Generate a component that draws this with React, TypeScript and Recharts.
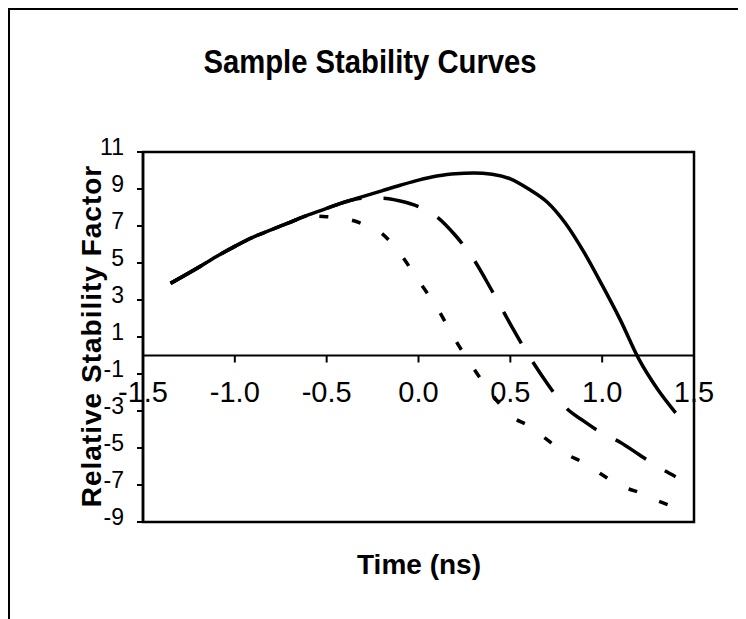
import React from 'react';
import { LineChart, Line, XAxis, YAxis, ReferenceLine, ReferenceArea, ReferenceDot } from 'recharts';

const times = [-1.35, -1.2, -1.1, -1.0, -0.9, -0.8, -0.7, -0.6, -0.5, -0.4, -0.3, -0.2, -0.1, 0.0, 0.1, 0.2, 0.3, 0.4, 0.5, 0.6, 0.7, 0.8, 0.9, 1.0, 1.1, 1.2, 1.3, 1.4];
const solidCurve = [3.9, 4.75, 5.35, 5.9, 6.4, 6.8, 7.2, 7.6, 7.95, 8.3, 8.6, 8.9, 9.2, 9.48, 9.7, 9.83, 9.86, 9.8, 9.55, 9.0, 8.3, 7.15, 5.6, 3.8, 1.9, -0.2, -1.8, -3.1];
const dashedCurve = [3.9, 4.75, 5.35, 5.9, 6.4, 6.8, 7.2, 7.6, 7.95, 8.3, 8.5, 8.5, 8.35, 8.05, 7.5, 6.5, 5.2, 3.5, 1.7, 0.0, -1.5, -2.8, -3.55, -4.2, -4.7, -5.35, -6.0, -6.55];
const dottedCurve = [3.9, 4.75, 5.35, 5.9, 6.4, 6.8, 7.2, 7.55, 7.5, 7.4, 7.1, 6.6, 5.5, 4.05, 2.6, 0.85, -0.7, -2.1, -3.25, -3.8, -4.55, -5.3, -5.8, -6.45, -7.05, -7.4, -7.85, -8.2];

const xTicks = [-1.5, -1.0, -0.5, 0.0, 0.5, 1.0, 1.5];
const yTicks = [-9, -7, -5, -3, -1, 1, 3, 5, 7, 9, 11];

const chartTitle = 'Sample Stability Curves';
const xTitle = 'Time (ns)';
const yTitle = 'Relative Stability Factor';

const data = times.map((t, i) => ({
  t,
  solid: solidCurve[i],
  dashed: dashedCurve[i],
  dotted: dottedCurve[i],
}));

const FONT = '"Liberation Sans", Arial, Helvetica, sans-serif';
const W = 738;
const H = 611;

// tick mark + label hanging under the zero line
const XTick = ({ cx, cy, label }: { cx?: number; cy?: number; label: string }) => {
  if (cx == null || cy == null) return null;
  return (
    <g>
      <line x1={cx} y1={cy} x2={cx} y2={cy + 7} stroke="#000" strokeWidth={2} />
      <text x={cx} y={cy + 46} textAnchor="middle" fontSize={29} fontFamily={FONT} fill="#000">
        {label}
      </text>
    </g>
  );
};

export default function App() {
  return (
    <div style={{ position: 'relative', width: W, height: H, background: '#fff', fontFamily: FONT }}>
      <div
        style={{
          position: 'absolute', left: 0, top: 0, width: W, height: H + 10,
          borderTop: '2px solid #000', borderLeft: '2px solid #000', borderRight: '2px solid #000',
          boxSizing: 'border-box', pointerEvents: 'none',
        }}
      />
      <div style={{ position: 'absolute', left: 362, top: 36, transform: 'translateX(-50%) scaleX(0.86)', fontSize: 34, fontWeight: 'bold', lineHeight: 1, whiteSpace: 'nowrap' }}>
        {chartTitle}
      </div>
      <div style={{ position: 'absolute', left: 411, top: 543, transform: 'translateX(-50%)', fontSize: 28, fontWeight: 'bold', lineHeight: 1, whiteSpace: 'nowrap' }}>
        {xTitle}
      </div>
      <div style={{ position: 'absolute', left: 84, top: 328, transform: 'translate(-50%, -50%) rotate(-90deg)', fontSize: 28, fontWeight: 'bold', letterSpacing: 1, lineHeight: 1, whiteSpace: 'nowrap' }}>
        {yTitle}
      </div>
      <LineChart width={W} height={H} data={data} margin={{ top: 144, right: 52, bottom: 97, left: 0 }}>
        <XAxis dataKey="t" type="number" domain={[-1.5, 1.5]} ticks={xTicks} hide />
        <YAxis
          type="number"
          domain={[-9, 11]}
          ticks={yTicks}
          interval={0}
          width={135}
          tickSize={6}
          tickMargin={13}
          axisLine={{ stroke: '#000', strokeWidth: 2.5 }}
          tickLine={{ stroke: '#000', strokeWidth: 2 }}
          tick={{ fill: '#000', fontSize: 23, fontFamily: FONT, dy: -5 }}
        />
        <ReferenceArea x1={-1.5} x2={1.5} y1={-9} y2={11} fill="none" fillOpacity={0} stroke="#000" strokeWidth={2.5} ifOverflow="visible" />
        <ReferenceLine y={0} stroke="#000" strokeWidth={2} />
        {xTicks.map((t) => (
          <ReferenceDot
            key={t}
            x={t}
            y={0}
            r={0}
            ifOverflow="visible"
            shape={(p: any) => <XTick cx={p.cx} cy={p.cy} label={t.toFixed(1)} />}
          />
        ))}
        <Line type="monotone" dataKey="solid" stroke="#000" strokeWidth={3.5} dot={false} isAnimationActive={false} />
        <Line type="monotone" dataKey="dashed" stroke="#000" strokeWidth={3.5} strokeDasharray="36 22" dot={false} isAnimationActive={false} />
        <Line type="monotone" dataKey="dotted" stroke="#000" strokeWidth={3.5} strokeDasharray="9 24" dot={false} isAnimationActive={false} />
      </LineChart>
    </div>
  );
}
